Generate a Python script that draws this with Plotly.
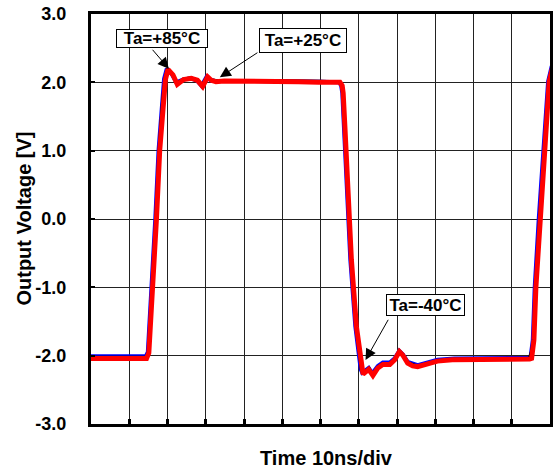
import plotly.graph_objects as go

# ---- data (time in ns, 10 ns/div; voltage in V) ----
red_t = [0, 14.52, 15.12, 15.63, 16.23, 17.11, 17.97, 18.82, 19.45, 20.12, 21.42, 22.56,
         24.19, 26.19, 27.82, 29.19, 30.49, 31.45, 32.67, 34.82, 38.71, 43.9, 49.08, 54.27,
         59.45, 65.08, 65.67, 65.93, 66.37, 67.23, 68.08, 69.38, 70.26, 70.73, 71.12, 72.6,
         73.71, 75.0, 76.3, 78.12, 79.41, 80.63, 81.49, 82.79, 84.08, 85.38, 87.97, 90.56,
         94.45, 98.34, 103.5, 108.7, 114.67, 115.19, 115.79, 116.31, 117.35, 118.64, 119.78,
         120.6, 125]
red_v = [-2.04, -2.04, -1.96, -1.48, -0.99, 0.0, 1.01, 1.70, 2.04, 2.19, 2.11, 1.97,
         2.04, 2.06, 2.03, 1.94, 2.08, 2.03, 2.01, 2.02, 2.02, 2.01, 2.02, 2.01,
         2.0, 2.0, 1.95, 1.84, 1.36, 0.38, -0.60, -1.57, -1.96, -2.21, -2.27, -2.20,
         -2.29, -2.18, -2.13, -2.13, -2.06, -1.94, -1.99, -2.11, -2.15, -2.16, -2.12, -2.08,
         -2.06, -2.06, -2.05, -2.05, -2.05, -2.04, -1.77, -1.0, 0.0, 1.01, 2.01,
         2.2, 2.05]

blue_t = [0, 14.3, 14.85, 15.3, 15.95, 16.8, 17.65, 18.5, 19.1, 19.8, 21.1, 22.3, 24.0,
          26.0, 27.6, 28.9, 30.2, 31.3, 32.5, 40, 50, 60, 64.9, 65.4, 65.7, 66.1, 66.95,
          67.8, 69.1, 70.0, 70.5, 70.9, 72.6, 73.5, 75.0, 76.3, 78.1, 79.4, 80.6, 81.5,
          82.8, 85.4, 88.0, 90.6, 95, 105, 114.4, 114.9, 115.5, 116.0, 117.05, 118.35,
          119.5, 120.3, 125]
blue_v = [-2.01, -2.01, -1.95, -1.5, -1.0, 0.0, 1.0, 1.7, 2.05, 2.2, 2.12, 2.0, 2.04,
          2.06, 2.03, 1.95, 2.08, 2.03, 2.02, 2.02, 2.02, 2.01, 2.0, 1.95, 1.84, 1.36, 0.38,
          -0.6, -1.57, -1.96, -2.2, -2.25, -2.18, -2.26, -2.15, -2.1, -2.1, -2.04, -1.93, -1.98,
          -2.09, -2.14, -2.1, -2.06, -2.04, -2.03, -2.03, -2.03, -1.77, -1.0, 0.0, 1.01,
          2.01, 2.2, 2.05]

black_t = [0, 14.4, 14.95, 15.45, 16.05, 16.9, 17.75, 18.6, 19.25, 19.95, 21.25, 22.4,
           24.1, 26.1, 27.7, 29.0, 30.3, 31.4, 32.6, 40, 50, 60, 65.0, 65.5, 65.8, 66.2,
           67.1, 67.95, 69.25, 70.15, 70.6, 71.0, 72.7, 73.6, 75.0, 76.3, 78.1, 79.4, 80.6,
           81.5, 82.8, 85.4, 88.0, 90.6, 95, 105, 114.5, 115.05, 115.65, 116.15, 117.2,
           118.5, 119.65, 120.45, 125]
black_v = [-2.02, -2.02, -1.95, -1.5, -1.0, 0.0, 1.0, 1.7, 2.05, 2.2, 2.12, 1.99, 2.05,
           2.07, 2.04, 1.96, 2.09, 2.04, 2.03, 2.03, 2.03, 2.02, 2.01, 1.95, 1.84, 1.36,
           0.38, -0.6, -1.57, -1.96, -2.2, -2.25, -2.18, -2.27, -2.16, -2.11, -2.11, -2.05,
           -1.93, -1.98, -2.1, -2.15, -2.11, -2.07, -2.05, -2.04, -2.04, -1.95, -1.77, -1.0,
           0.0, 1.01, 2.01, 2.2, 2.05]

ytick_vals = [3.0, 2.0, 1.0, 0.0, -1.0, -2.0, -3.0]
ytick_labels = ["3.0", "2.0", "1.0", "0.0", "-1.0", "-2.0", "-3.0"]

labels = ["Ta=+85°C", "Ta=+25°C", "Ta=-40°C"]
label_x = [18.44, 55.3, 87.48]
label_y = [2.637, 2.608, -1.262]
label_w = [90, 86, 77]
label_h = [17, 23, 20]
arrow_tip_x = [20.34, 33.69, 71.77]
arrow_tip_y = [2.20, 2.074, -2.063]
arrow_tail_x = [15.77, 43.9, 77.92]
arrow_tail_y = [2.498, 2.448, -1.453]

FONT = "Liberation Sans, Arial, sans-serif"

fig = go.Figure()
fig.add_trace(go.Scatter(x=blue_t, y=blue_v, mode="lines",
                         line=dict(color="#0000FF", width=4), showlegend=False))
fig.add_trace(go.Scatter(x=black_t, y=black_v, mode="lines",
                         line=dict(color="#000000", width=2.5), showlegend=False))
fig.add_trace(go.Scatter(x=red_t, y=red_v, mode="lines",
                         line=dict(color="#FF0000", width=5), showlegend=False))

for i, txt in enumerate(labels):
    fig.add_annotation(x=label_x[i], y=label_y[i], xref="x", yref="y", text="<b>%s</b>" % txt,
                       showarrow=False, bgcolor="white", bordercolor="black", borderwidth=1,
                       borderpad=0, width=label_w[i], height=label_h[i],
                       font=dict(family=FONT, size=17, color="black"))
    fig.add_annotation(x=arrow_tip_x[i], y=arrow_tip_y[i], ax=arrow_tail_x[i], ay=arrow_tail_y[i],
                       xref="x", yref="y", axref="x", ayref="y", text="", showarrow=True,
                       arrowhead=2, arrowsize=2.2, arrowwidth=1, arrowcolor="black", standoff=0)

fig.add_annotation(x=0.512, y=-0.083, xref="paper", yref="paper", text="<b>Time 10ns/div</b>",
                   showarrow=False, xanchor="center", yanchor="middle",
                   font=dict(family=FONT, size=20, color="black"))
fig.add_annotation(x=-0.147, y=0.5, xref="paper", yref="paper", text="<b>Output Voltage [V]</b>",
                   showarrow=False, xanchor="center", yanchor="middle", textangle=-90,
                   font=dict(family=FONT, size=20, color="black"))

fig.update_xaxes(range=[0, 120], dtick=10, tick0=0, showticklabels=False,
                 showgrid=True, gridcolor="#222222", gridwidth=1, zeroline=False,
                 showline=True, linecolor="black", linewidth=3, mirror=True,
                 ticks="inside", ticklen=5, tickwidth=3, tickcolor="black")
fig.update_yaxes(range=[-3, 3], tickvals=ytick_vals, ticktext=ytick_labels,
                 showgrid=True, gridcolor="#222222", gridwidth=1, zeroline=False,
                 showline=True, linecolor="black", linewidth=3, mirror=True,
                 ticks="inside", ticklen=4, tickwidth=2, tickcolor="black",
                 ticklabelstandoff=18,
                 tickfont=dict(family=FONT, size=18, color="black", weight="bold"))

fig.update_layout(width=555, height=471, margin=dict(l=91, r=2, t=14, b=47),
                  paper_bgcolor="white", plot_bgcolor="white", showlegend=False)

fig.write_html("out.html")
